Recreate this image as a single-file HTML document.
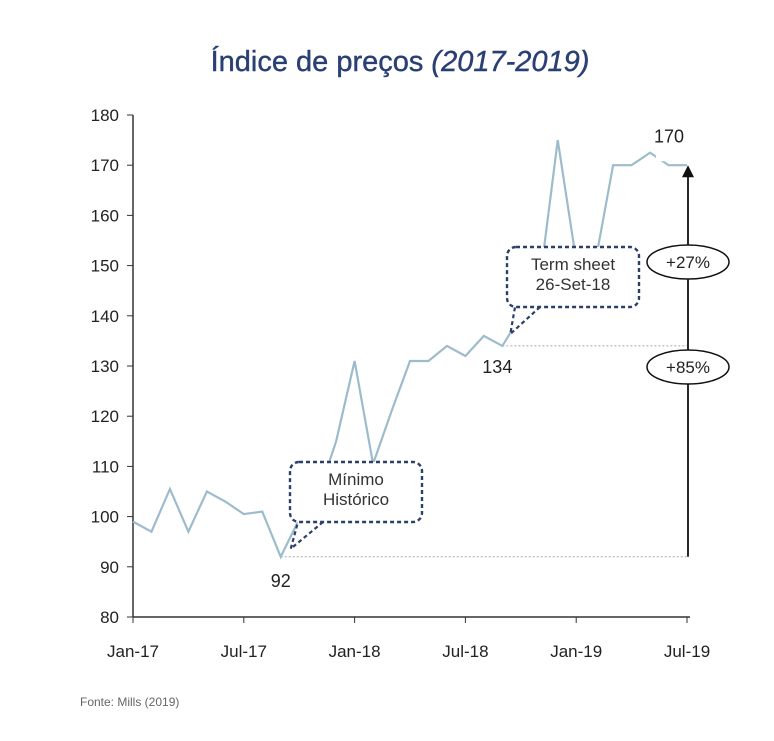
<!DOCTYPE html>
<html><head><meta charset="utf-8"><style>
body{margin:0;background:#fff;width:774px;height:736px;overflow:hidden;font-family:"Liberation Sans",sans-serif}
</style></head><body>
<svg id="chart" width="774" height="736" xmlns="http://www.w3.org/2000/svg" font-family="Liberation Sans, sans-serif">
<text x="400" y="71" text-anchor="middle" font-size="29" fill="#2a3f73" stroke="#2a3f73" stroke-width="0.4">Índice de preços <tspan font-style="italic">(2017-2019)</tspan></text>
<g id="axes"></g>
<g id="marks"></g>
<text x="80" y="706" font-size="12" fill="#666">Fonte: Mills (2019)</text>
</svg>
<script>
const months = ["Jan-17","Feb-17","Mar-17","Apr-17","May-17","Jun-17","Jul-17","Aug-17","Sep-17","Oct-17","Nov-17","Dec-17","Jan-18","Feb-18","Mar-18","Apr-18","May-18","Jun-18","Jul-18","Aug-18","Sep-18","Oct-18","Nov-18","Dec-18","Jan-19","Feb-19","Mar-19","Apr-19","May-19","Jun-19","Jul-19"];
const values = [99,97,105.5,97,105,103,100.5,101,92,99.5,104,115,131,110.5,121,131,131,134,132,136,134,140,146,175,151,150,170,170,172.5,170,170];
const yTicks = [80,90,100,110,120,130,140,150,160,170,180];
const xTickLabels = ["Jan-17","Jul-17","Jan-18","Jul-18","Jan-19","Jul-19"];
const xTickIndex = [0,6,12,18,24,30];

const NS="http://www.w3.org/2000/svg";
const x0=133,x1=687,yTop=115,yBot=617;
const xs=i=>x0+(x1-x0)*i/30;
const ys=v=>yBot-(v-80)/100*(yBot-yTop);
function mk(tag,attrs,parent,text){const e=document.createElementNS(NS,tag);for(const k in attrs)e.setAttribute(k,attrs[k]);if(text!==undefined)e.textContent=text;parent.appendChild(e);return e;}
const axes=document.getElementById('axes'),marks=document.getElementById('marks');
let e=mk('line',{x1:x0,y1:yTop,x2:x0,y2:yBot,stroke:'#333','stroke-width':1.5},axes);


e=mk('line',{x1:x0,y1:yBot,x2:690,y2:yBot,stroke:'#333','stroke-width':1.5},axes);


yTicks.forEach(v=>{
 mk('line',{x1:x0-6,y1:ys(v),x2:x0,y2:ys(v),stroke:'#333'},axes);
 const t=mk('text',{x:x0-14,y:ys(v)+6,'text-anchor':'end','font-size':17,fill:'#222'},axes,String(v));
 
 
});
xTickIndex.forEach((idx,k)=>{
 mk('line',{x1:xs(idx),y1:yBot,x2:xs(idx),y2:yBot+6,stroke:'#333'},axes);
 const t=mk('text',{x:xs(idx),y:yBot+40,'text-anchor':'middle','font-size':17,fill:'#222'},axes,xTickLabels[k]);
 
 
});
const iMin=8,iTs=20,iEnd=30;
e=mk('line',{x1:xs(iMin),y1:ys(values[iMin]),x2:xs(iEnd),y2:ys(values[iMin]),stroke:'#aaa','stroke-dasharray':'2,2'},marks);


e=mk('line',{x1:xs(iTs),y1:ys(values[iTs]),x2:xs(iEnd),y2:ys(values[iTs]),stroke:'#aaa','stroke-dasharray':'2,2'},marks);


e=mk('line',{x1:xs(29),y1:ys(values[iEnd]),x2:xs(iEnd),y2:ys(values[iEnd]),stroke:'#aaa','stroke-dasharray':'2,2'},marks);


const pl=mk('polyline',{points:values.map((v,i)=>xs(i)+','+ys(v)).join(' '),fill:'none',stroke:'#9dbccb','stroke-width':2.2},marks);


const ax=xs(iEnd)+1;
e=mk('line',{x1:ax,y1:ys(values[iMin]),x2:ax,y2:ys(values[iEnd])+10,stroke:'#111','stroke-width':1.8},marks);


mk('polygon',{points:`${ax-6},${ys(values[iEnd])+12} ${ax+6},${ys(values[iEnd])+12} ${ax},${ys(values[iEnd])}`,fill:'#111'},marks);
[["+27%",262,'pct-27-badge'],["+85%",367,'pct-85-badge']].forEach(([t,y,n])=>{
 const g=mk('g',{},marks);
 
 
 mk('ellipse',{cx:ax,cy:y,rx:41,ry:17,fill:'#fff',stroke:'#111','stroke-width':1.5},g);
 mk('text',{x:ax,y:y+6,'text-anchor':'middle','font-size':17,fill:'#222'},g,t);
});
// gap behind 170 label
mk('rect',{x:xs(28)+6,y:ys(values[iEnd])-28,width:24,height:24,fill:'#fff'},marks);
[[iMin,"92",0,30],[iTs,"134",-5,27],[28,"170",19,-10]].forEach(([i,t,dx,dy])=>{
 const l=mk('text',{x:xs(i)+dx,y:ys(values[i])+dy,'text-anchor':'middle','font-size':18,fill:'#222'},marks,t);
 
 
});
function callout(bx,by,bw,bh,tip,lines,name){
 const g=mk('g',{},marks);
 
 
 const tx=tip[0],ty=tip[1];
 mk('path',{d:`M${bx+bw*0.25},${by+bh} L${tx},${ty} L${bx+8},${by+bh}`,fill:'#fff',stroke:'#2b3f6b','stroke-width':2.2,'stroke-dasharray':'4,3'},g);
 mk('rect',{x:bx,y:by,width:bw,height:bh,rx:9,fill:'#fff',stroke:'#2b3f6b','stroke-width':2.4,'stroke-dasharray':'4,3'},g);
 lines.forEach((s,k)=>mk('text',{x:bx+bw/2,y:by+23+k*20,'text-anchor':'middle','font-size':17,fill:'#333'},g,s));
}
callout(290,462,132,60,[xs(iMin)+10,ys(values[iMin])-8],["Mínimo","Histórico"],'minimo-historico-callout');
callout(507,247,132,60,[xs(iTs)+8,ys(values[iTs])-12],["Term sheet","26-Set-18"],'term-sheet-callout');
</script>
</body></html>
